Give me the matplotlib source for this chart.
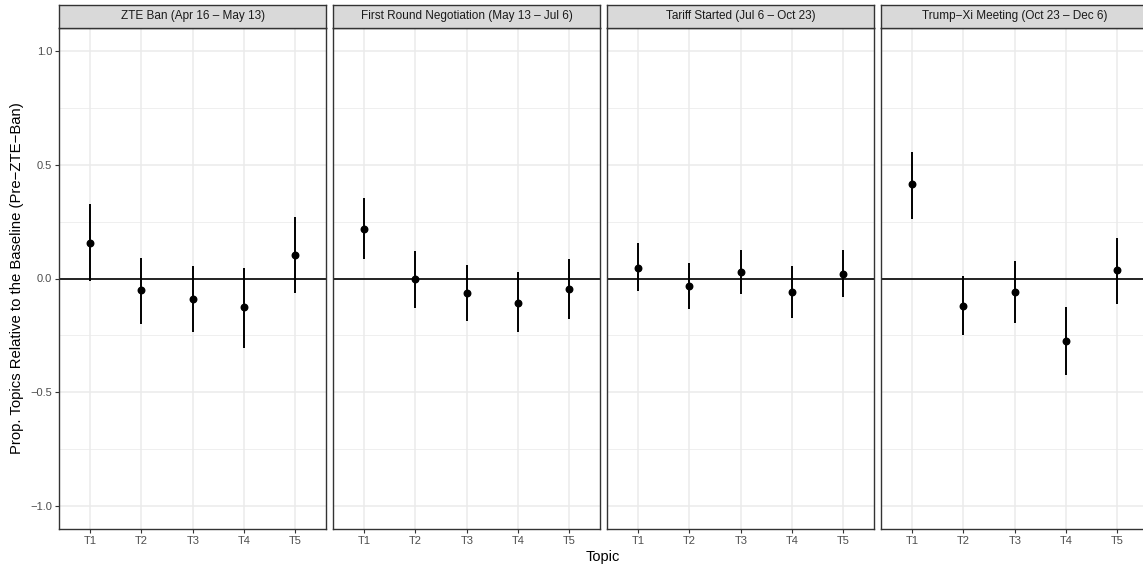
import matplotlib.pyplot as plt
import numpy as np

plt.rcParams['font.family'] = ['Liberation Sans', 'DejaVu Sans']

topics = ["T1", "T2", "T3", "T4", "T5"]
periods = ["ZTE Ban (Apr 16 \u2013 May 13)",
           "First Round Negotiation (May 13 \u2013 Jul 6)",
           "Tariff Started (Jul 6 \u2013 Oct 23)",
           "Trump\u2212Xi Meeting (Oct 23 \u2013 Dec 6)"]

est = [
    [0.155, -0.051, -0.091, -0.126, 0.102],
    [0.216, -0.004, -0.063, -0.106, -0.044],
    [0.047, -0.034, 0.028, -0.059, 0.020],
    [0.415, -0.119, -0.061, -0.273, 0.039],
]
upper = [
    [0.326, 0.088, 0.055, 0.047, 0.268],
    [0.353, 0.119, 0.058, 0.027, 0.085],
    [0.155, 0.066, 0.124, 0.054, 0.127],
    [0.556, 0.012, 0.075, -0.123, 0.180],
]
lower = [
    [-0.010, -0.198, -0.234, -0.306, -0.062],
    [0.084, -0.128, -0.186, -0.234, -0.176],
    [-0.056, -0.134, -0.069, -0.175, -0.080],
    [0.261, -0.250, -0.195, -0.423, -0.110],
]

W, H = 1143, 569
fig = plt.figure(figsize=(W / 100, H / 100), dpi=100)

# panel geometry in pixels (last panel runs off the right edge, as in the original)
left = 59.3
pw = 267
gap = 7
bottom, top, strip_top = 529, 28, 5

grid_col = "#EBEBEB"
frame_col = "#333333"
x = np.arange(len(topics))

for i, name in enumerate(periods):
    x0 = left + i * (pw + gap)
    ax = fig.add_axes([x0 / W, 1 - bottom / H, pw / W, (bottom - top) / H])
    ax.set_xlim(-0.6, 4.6)
    ax.set_ylim(-1.1, 1.1)
    ax.set_yticks([-1.0, -0.5, 0.0, 0.5, 1.0])
    ax.set_yticks([-0.75, -0.25, 0.25, 0.75], minor=True)
    ax.set_xticks(x)
    ax.set_xticklabels(topics)
    ax.grid(True, which="major", color=grid_col, linewidth=1.1)
    ax.grid(True, which="minor", axis="y", color=grid_col, linewidth=0.55)
    ax.set_axisbelow(True)
    for s in ax.spines.values():
        s.set_color(frame_col)
        s.set_linewidth(1.0)
    ax.tick_params(which="major", length=3, width=0.8, color=frame_col,
                   labelsize=8, labelcolor="#4D4D4D", pad=2)
    ax.tick_params(which="minor", length=0)
    if i == 0:
        ax.set_yticklabels(["\u22121.0", "\u22120.5", "0.0", "0.5", "1.0"])
    else:
        ax.tick_params(axis="y", which="major", length=0, labelleft=False)

    ax.axhline(0, color="black", linewidth=1.2, zorder=2)
    e = np.array(est[i])
    lo = np.array(lower[i])
    hi = np.array(upper[i])
    ax.vlines(x, lo, hi, color="black", linewidth=1.4, zorder=3)
    ax.scatter(x, e, s=22, color="black", zorder=4)

    sax = fig.add_axes([x0 / W, 1 - top / H, pw / W, (top - strip_top) / H])
    sax.set_facecolor("#D9D9D9")
    sax.set_xticks([])
    sax.set_yticks([])
    for s in sax.spines.values():
        s.set_color(frame_col)
        s.set_linewidth(1.0)
    sax.text(0.5, 0.5, name, ha="center", va="center", fontsize=8.5,
             color="#1A1A1A", transform=sax.transAxes)

fig.text(603 / W, 1 - 557 / H, "Topic", ha="center", va="center",
         fontsize=10.5)
fig.text(17 / W, 1 - ((bottom + top) / 2) / H,
         "Prop. Topics Relative to the Baseline (Pre\u2212ZTE\u2212Ban)",
         rotation=90, ha="center", va="center", fontsize=10.7)

fig.savefig("out.png", dpi=100)
